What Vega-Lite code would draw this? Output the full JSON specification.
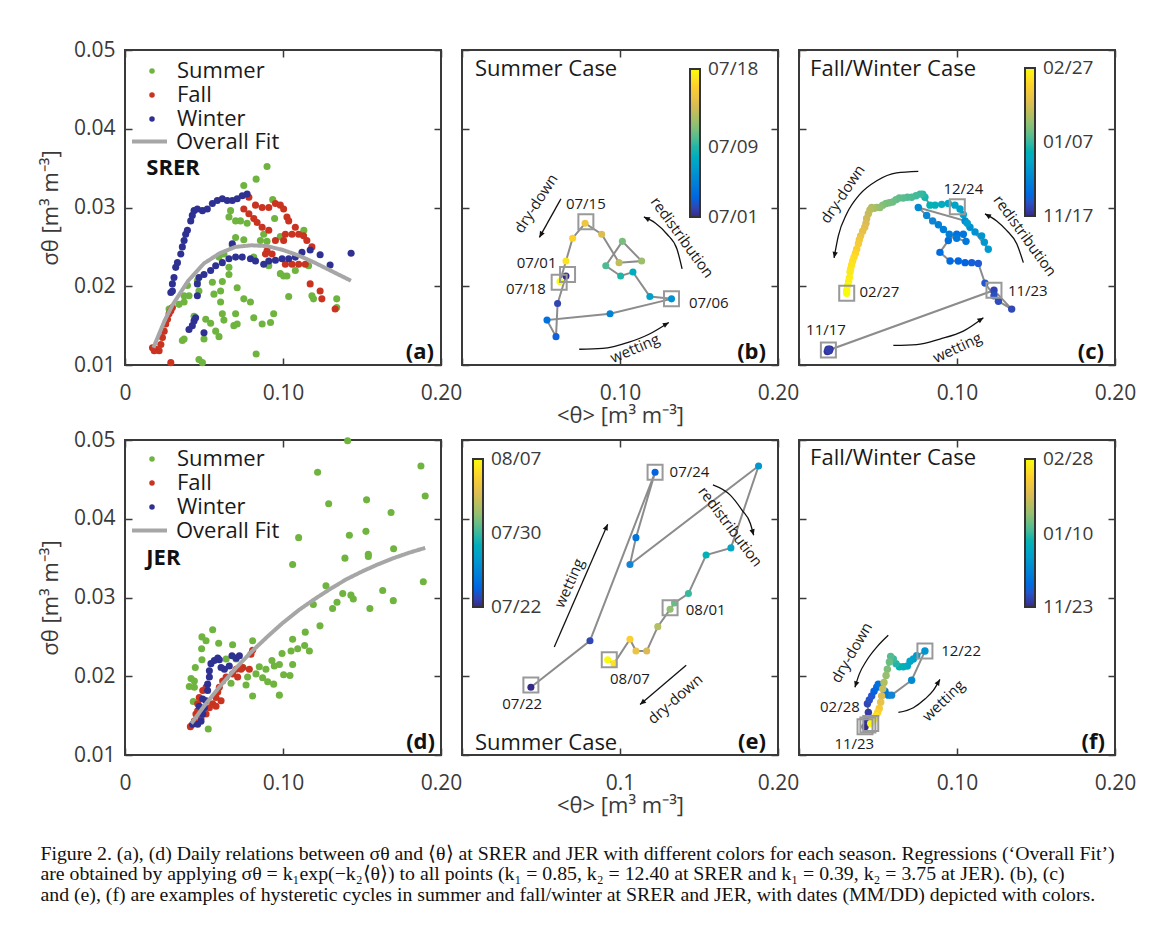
{
"$schema": "https://vega.github.io/schema/vega-lite/v6.json",
"background": "white",
"padding": {"left": 38, "top": 38, "right": 5, "bottom": 5},
"bounds": "flush",
"columns": 3,
"spacing": {"row": 75, "column": 21},
"resolve": {"scale": {"color": "independent", "strokeDash": "independent", "x": "independent", "y": "independent"}, "legend": {"color": "independent", "strokeDash": "independent"}},
"title": {"text": ["Figure 2. (a), (d) Daily relations between σθ and ⟨θ⟩ at SRER and JER with different colors for each season. Regressions (‘Overall Fit’)", "are obtained by applying σθ = k₁exp(−k₂⟨θ⟩) to all points (k₁ = 0.85, k₂ = 12.40 at SRER and k₁ = 0.39, k₂ = 3.75 at JER). (b), (c)", "and (e), (f) are examples of hysteretic cycles in summer and fall/winter at SRER and JER, with dates (MM/DD) depicted with colors."], "orient": "bottom", "anchor": "start", "frame": "bounds", "font": "Liberation Serif", "fontSize": 19.8, "fontWeight": "normal", "color": "#111111", "lineHeight": 20.3, "offset": 27, "dx": 2},
"config": {
 "font": "Open Sans",
 "view": {"stroke": "#3a3a3a", "strokeWidth": 2},
 "axis": {"domain": false, "grid": false, "tickColor": "#3a3a3a", "tickWidth": 1.5, "tickSize": -7, "labelFontSize": 21, "labelColor": "#3a3a3a", "labelFlush": false, "labelOverlap": false, "titleFontSize": 22, "titleFontWeight": "normal", "titleColor": "#3a3a3a"},
 "axisY": {"labelPadding": 17},
 "legend": {"labelFont": "Open Sans", "labelColor": "#1a1a1a"},
 "text": {"font": "Open Sans", "color": "#1a1a1a"}
},
"datasets": {
 "a_pts": [
  {"season":"Summer","theta":0.0899,"sigma":0.0352},{"season":"Summer","theta":0.083,"sigma":0.0336},{"season":"Summer","theta":0.0752,"sigma":0.0328},{"season":"Summer","theta":0.0668,"sigma":0.0296},{"season":"Summer","theta":0.0658,"sigma":0.0288},{"season":"Summer","theta":0.07,"sigma":0.0283},{"season":"Summer","theta":0.0731,"sigma":0.0283},{"season":"Summer","theta":0.0773,"sigma":0.028},{"season":"Summer","theta":0.0935,"sigma":0.031},{"season":"Summer","theta":0.0947,"sigma":0.0286},{"season":"Summer","theta":0.0878,"sigma":0.0266},{"season":"Summer","theta":0.07,"sigma":0.0262},{"season":"Summer","theta":0.0752,"sigma":0.0259},{"season":"Summer","theta":0.0857,"sigma":0.0258},{"season":"Summer","theta":0.0899,"sigma":0.0257},{"season":"Summer","theta":0.0983,"sigma":0.0263},{"season":"Summer","theta":0.1132,"sigma":0.0271},{"season":"Summer","theta":0.0626,"sigma":0.0241},{"season":"Summer","theta":0.0595,"sigma":0.0237},{"season":"Summer","theta":0.0658,"sigma":0.0224},{"season":"Summer","theta":0.0658,"sigma":0.0215},{"season":"Summer","theta":0.0679,"sigma":0.0252},{"season":"Summer","theta":0.0815,"sigma":0.0237},{"season":"Summer","theta":0.091,"sigma":0.0226},{"season":"Summer","theta":0.1004,"sigma":0.0213},{"season":"Summer","theta":0.1078,"sigma":0.022},{"season":"Summer","theta":0.1162,"sigma":0.0226},{"season":"Summer","theta":0.0458,"sigma":0.0207},{"season":"Summer","theta":0.0395,"sigma":0.0201},{"season":"Summer","theta":0.0374,"sigma":0.0188},{"season":"Summer","theta":0.0405,"sigma":0.0188},{"season":"Summer","theta":0.0553,"sigma":0.0205},{"season":"Summer","theta":0.0616,"sigma":0.0206},{"season":"Summer","theta":0.0563,"sigma":0.019},{"season":"Summer","theta":0.0605,"sigma":0.0194},{"season":"Summer","theta":0.071,"sigma":0.0198},{"season":"Summer","theta":0.0752,"sigma":0.0184},{"season":"Summer","theta":0.0794,"sigma":0.018},{"season":"Summer","theta":0.0605,"sigma":0.018},{"season":"Summer","theta":0.0279,"sigma":0.0171},{"season":"Summer","theta":0.0342,"sigma":0.0177},{"season":"Summer","theta":0.0374,"sigma":0.018},{"season":"Summer","theta":0.0437,"sigma":0.0162},{"season":"Summer","theta":0.0511,"sigma":0.0158},{"season":"Summer","theta":0.0542,"sigma":0.0153},{"season":"Summer","theta":0.0574,"sigma":0.0143},{"season":"Summer","theta":0.0616,"sigma":0.0165},{"season":"Summer","theta":0.0626,"sigma":0.0157},{"season":"Summer","theta":0.07,"sigma":0.0165},{"season":"Summer","theta":0.0689,"sigma":0.015},{"season":"Summer","theta":0.071,"sigma":0.0152},{"season":"Summer","theta":0.0815,"sigma":0.016},{"season":"Summer","theta":0.0868,"sigma":0.0152},{"season":"Summer","theta":0.0921,"sigma":0.0154},{"season":"Summer","theta":0.0941,"sigma":0.0165},{"season":"Summer","theta":0.1036,"sigma":0.0187},{"season":"Summer","theta":0.1183,"sigma":0.0188},{"season":"Summer","theta":0.1193,"sigma":0.0184},{"season":"Summer","theta":0.134,"sigma":0.0184},{"season":"Summer","theta":0.134,"sigma":0.0173},{"season":"Summer","theta":0.0374,"sigma":0.0133},{"season":"Summer","theta":0.0363,"sigma":0.0131},{"season":"Summer","theta":0.05,"sigma":0.0133},{"season":"Summer","theta":0.0595,"sigma":0.0136},{"season":"Summer","theta":0.0468,"sigma":0.0107},{"season":"Summer","theta":0.049,"sigma":0.0103},{"season":"Summer","theta":0.083,"sigma":0.0114},{"season":"Summer","theta":0.0983,"sigma":0.0216},{"season":"Summer","theta":0.1025,"sigma":0.0213},{"season":"Summer","theta":0.0468,"sigma":0.0194},
  {"season":"Fall","theta":0.0174,"sigma":0.0122},{"season":"Fall","theta":0.0195,"sigma":0.012},{"season":"Fall","theta":0.0216,"sigma":0.0118},{"season":"Fall","theta":0.0227,"sigma":0.0126},{"season":"Fall","theta":0.0237,"sigma":0.0135},{"season":"Fall","theta":0.0248,"sigma":0.0143},{"season":"Fall","theta":0.0258,"sigma":0.0152},{"season":"Fall","theta":0.0269,"sigma":0.0158},{"season":"Fall","theta":0.0279,"sigma":0.0165},{"season":"Fall","theta":0.029,"sigma":0.0169},{"season":"Fall","theta":0.03,"sigma":0.0173},{"season":"Fall","theta":0.029,"sigma":0.0103},{"season":"Fall","theta":0.0185,"sigma":0.0118},{"season":"Fall","theta":0.0784,"sigma":0.0313},{"season":"Fall","theta":0.0752,"sigma":0.0298},{"season":"Fall","theta":0.0784,"sigma":0.0292},{"season":"Fall","theta":0.0815,"sigma":0.0286},{"season":"Fall","theta":0.0836,"sigma":0.0281},{"season":"Fall","theta":0.0868,"sigma":0.0275},{"season":"Fall","theta":0.091,"sigma":0.0271},{"season":"Fall","theta":0.0826,"sigma":0.0303},{"season":"Fall","theta":0.0868,"sigma":0.03},{"season":"Fall","theta":0.091,"sigma":0.03},{"season":"Fall","theta":0.0952,"sigma":0.0305},{"season":"Fall","theta":0.0983,"sigma":0.0303},{"season":"Fall","theta":0.1004,"sigma":0.0298},{"season":"Fall","theta":0.1025,"sigma":0.0288},{"season":"Fall","theta":0.1036,"sigma":0.0283},{"season":"Fall","theta":0.1015,"sigma":0.0266},{"season":"Fall","theta":0.1057,"sigma":0.0266},{"season":"Fall","theta":0.1078,"sigma":0.0275},{"season":"Fall","theta":0.1099,"sigma":0.0266},{"season":"Fall","theta":0.113,"sigma":0.0264},{"season":"Fall","theta":0.1151,"sigma":0.0258},{"season":"Fall","theta":0.1183,"sigma":0.025},{"season":"Fall","theta":0.0952,"sigma":0.0258},{"season":"Fall","theta":0.1004,"sigma":0.0258},{"season":"Fall","theta":0.0899,"sigma":0.0245},{"season":"Fall","theta":0.0931,"sigma":0.0241},{"season":"Fall","theta":0.0889,"sigma":0.0241},{"season":"Fall","theta":0.1015,"sigma":0.0228},{"season":"Fall","theta":0.1057,"sigma":0.0228},{"season":"Fall","theta":0.1099,"sigma":0.0228},{"season":"Fall","theta":0.1141,"sigma":0.0228},{"season":"Fall","theta":0.1172,"sigma":0.0203},{"season":"Fall","theta":0.1235,"sigma":0.0194},{"season":"Fall","theta":0.1246,"sigma":0.0184},{"season":"Fall","theta":0.133,"sigma":0.0171},
  {"season":"Winter","theta":0.029,"sigma":0.0192},{"season":"Winter","theta":0.03,"sigma":0.0203},{"season":"Winter","theta":0.031,"sigma":0.0211},{"season":"Winter","theta":0.0321,"sigma":0.0224},{"season":"Winter","theta":0.0332,"sigma":0.023},{"season":"Winter","theta":0.0353,"sigma":0.0241},{"season":"Winter","theta":0.0363,"sigma":0.025},{"season":"Winter","theta":0.0374,"sigma":0.0258},{"season":"Winter","theta":0.0384,"sigma":0.0266},{"season":"Winter","theta":0.0395,"sigma":0.0271},{"season":"Winter","theta":0.0416,"sigma":0.0283},{"season":"Winter","theta":0.0426,"sigma":0.029},{"season":"Winter","theta":0.0437,"sigma":0.0296},{"season":"Winter","theta":0.0458,"sigma":0.0298},{"season":"Winter","theta":0.049,"sigma":0.0296},{"season":"Winter","theta":0.0521,"sigma":0.0298},{"season":"Winter","theta":0.0553,"sigma":0.0305},{"season":"Winter","theta":0.0584,"sigma":0.0309},{"season":"Winter","theta":0.0616,"sigma":0.0311},{"season":"Winter","theta":0.0647,"sigma":0.0309},{"season":"Winter","theta":0.0679,"sigma":0.0309},{"season":"Winter","theta":0.071,"sigma":0.0311},{"season":"Winter","theta":0.0742,"sigma":0.0315},{"season":"Winter","theta":0.0773,"sigma":0.0317},{"season":"Winter","theta":0.0458,"sigma":0.0203},{"season":"Winter","theta":0.0468,"sigma":0.0211},{"season":"Winter","theta":0.05,"sigma":0.0215},{"season":"Winter","theta":0.0542,"sigma":0.022},{"season":"Winter","theta":0.0574,"sigma":0.0226},{"season":"Winter","theta":0.0616,"sigma":0.023},{"season":"Winter","theta":0.0658,"sigma":0.0235},{"season":"Winter","theta":0.07,"sigma":0.0237},{"season":"Winter","theta":0.0742,"sigma":0.0237},{"season":"Winter","theta":0.0794,"sigma":0.0235},{"season":"Winter","theta":0.0826,"sigma":0.0232},{"season":"Winter","theta":0.0878,"sigma":0.0228},{"season":"Winter","theta":0.091,"sigma":0.0232},{"season":"Winter","theta":0.0952,"sigma":0.0233},{"season":"Winter","theta":0.0994,"sigma":0.0235},{"season":"Winter","theta":0.1036,"sigma":0.0235},{"season":"Winter","theta":0.1078,"sigma":0.0237},{"season":"Winter","theta":0.112,"sigma":0.0243},{"season":"Winter","theta":0.1172,"sigma":0.0246},{"season":"Winter","theta":0.1235,"sigma":0.024},{"season":"Winter","theta":0.1298,"sigma":0.0227},{"season":"Winter","theta":0.1431,"sigma":0.0242},{"season":"Winter","theta":0.0679,"sigma":0.0254},{"season":"Winter","theta":0.03,"sigma":0.0194},{"season":"Winter","theta":0.0458,"sigma":0.0188},{"season":"Winter","theta":0.0437,"sigma":0.0156},{"season":"Winter","theta":0.0426,"sigma":0.015},{"season":"Winter","theta":0.0405,"sigma":0.0145},{"season":"Winter","theta":0.0447,"sigma":0.016},{"season":"Winter","theta":0.05,"sigma":0.0141}
 ],
 "a_fit": [{"theta":0.018,"sigma":0.0122},{"theta":0.025,"sigma":0.0156},{"theta":0.03,"sigma":0.0176},{"theta":0.04,"sigma":0.0207},{"theta":0.05,"sigma":0.0229},{"theta":0.06,"sigma":0.0242},{"theta":0.07,"sigma":0.025},{"theta":0.08,"sigma":0.0252},{"theta":0.09,"sigma":0.0251},{"theta":0.1,"sigma":0.0246},{"theta":0.11,"sigma":0.0239},{"theta":0.12,"sigma":0.023},{"theta":0.13,"sigma":0.022},{"theta":0.14,"sigma":0.021},{"theta":0.143,"sigma":0.0207}],
 "d_pts": [
  {"season":"Summer","theta":0.1409,"sigma":0.0499},{"season":"Summer","theta":0.1219,"sigma":0.0459},{"season":"Summer","theta":0.1873,"sigma":0.0467},{"season":"Summer","theta":0.19,"sigma":0.0429},{"season":"Summer","theta":0.1289,"sigma":0.0419},{"season":"Summer","theta":0.1529,"sigma":0.0424},{"season":"Summer","theta":0.1684,"sigma":0.0408},{"season":"Summer","theta":0.1099,"sigma":0.0376},{"season":"Summer","theta":0.142,"sigma":0.0379},{"season":"Summer","theta":0.1525,"sigma":0.0384},{"season":"Summer","theta":0.17,"sigma":0.0362},{"season":"Summer","theta":0.1061,"sigma":0.0342},{"season":"Summer","theta":0.1392,"sigma":0.035},{"season":"Summer","theta":0.154,"sigma":0.0355},{"season":"Summer","theta":0.154,"sigma":0.0352},{"season":"Summer","theta":0.1888,"sigma":0.032},{"season":"Summer","theta":0.1272,"sigma":0.0315},{"season":"Summer","theta":0.1378,"sigma":0.0305},{"season":"Summer","theta":0.143,"sigma":0.0303},{"season":"Summer","theta":0.1445,"sigma":0.0298},{"season":"Summer","theta":0.1631,"sigma":0.0309},{"season":"Summer","theta":0.1698,"sigma":0.0296},{"season":"Summer","theta":0.155,"sigma":0.0286},{"season":"Summer","theta":0.1314,"sigma":0.0286},{"season":"Summer","theta":0.1342,"sigma":0.0294},{"season":"Summer","theta":0.1192,"sigma":0.0291},{"season":"Summer","theta":0.1234,"sigma":0.0264},{"season":"Summer","theta":0.1141,"sigma":0.0256},{"season":"Summer","theta":0.1061,"sigma":0.0247},{"season":"Summer","theta":0.1137,"sigma":0.0239},{"season":"Summer","theta":0.1093,"sigma":0.0235},{"season":"Summer","theta":0.1167,"sigma":0.0232},{"season":"Summer","theta":0.1051,"sigma":0.0232},{"season":"Summer","theta":0.0994,"sigma":0.0229},{"season":"Summer","theta":0.1061,"sigma":0.0215},{"season":"Summer","theta":0.1044,"sigma":0.0201},{"season":"Summer","theta":0.1004,"sigma":0.0202},{"season":"Summer","theta":0.093,"sigma":0.022},{"season":"Summer","theta":0.0977,"sigma":0.0215},{"season":"Summer","theta":0.0945,"sigma":0.0213},{"season":"Summer","theta":0.0892,"sigma":0.0209},{"season":"Summer","theta":0.085,"sigma":0.0212},{"season":"Summer","theta":0.0829,"sigma":0.0203},{"season":"Summer","theta":0.0871,"sigma":0.0198},{"season":"Summer","theta":0.0903,"sigma":0.0193},{"season":"Summer","theta":0.0941,"sigma":0.019},{"season":"Summer","theta":0.0977,"sigma":0.0176},{"season":"Summer","theta":0.0808,"sigma":0.0175},{"season":"Summer","theta":0.0766,"sigma":0.0189},{"season":"Summer","theta":0.0776,"sigma":0.0199},{"season":"Summer","theta":0.0808,"sigma":0.0245},{"season":"Summer","theta":0.0681,"sigma":0.024},{"season":"Summer","theta":0.064,"sigma":0.0222},{"season":"Summer","theta":0.0671,"sigma":0.0191},{"season":"Summer","theta":0.0593,"sigma":0.0242},{"season":"Summer","theta":0.0555,"sigma":0.0259},{"season":"Summer","theta":0.0487,"sigma":0.025},{"season":"Summer","theta":0.0513,"sigma":0.0245},{"season":"Summer","theta":0.0485,"sigma":0.0235},{"season":"Summer","theta":0.0487,"sigma":0.0221},{"season":"Summer","theta":0.0445,"sigma":0.0211},{"season":"Summer","theta":0.0418,"sigma":0.0197},{"season":"Summer","theta":0.0439,"sigma":0.0194},{"season":"Summer","theta":0.0407,"sigma":0.0187},{"season":"Summer","theta":0.0439,"sigma":0.0186},{"season":"Summer","theta":0.0432,"sigma":0.0168},{"season":"Summer","theta":0.0527,"sigma":0.0133},{"season":"Summer","theta":0.0703,"sigma":0.0222},{"season":"Summer","theta":0.0745,"sigma":0.0211},
  {"season":"Fall","theta":0.0414,"sigma":0.0136},{"season":"Fall","theta":0.0439,"sigma":0.0143},{"season":"Fall","theta":0.0449,"sigma":0.0152},{"season":"Fall","theta":0.046,"sigma":0.0165},{"season":"Fall","theta":0.047,"sigma":0.0173},{"season":"Fall","theta":0.0492,"sigma":0.0182},{"season":"Fall","theta":0.0513,"sigma":0.0186},{"season":"Fall","theta":0.0492,"sigma":0.0156},{"season":"Fall","theta":0.0534,"sigma":0.016},{"season":"Fall","theta":0.0555,"sigma":0.0165},{"season":"Fall","theta":0.0576,"sigma":0.0173},{"season":"Fall","theta":0.0587,"sigma":0.018},{"season":"Fall","theta":0.0597,"sigma":0.0186},{"season":"Fall","theta":0.0618,"sigma":0.0194},{"season":"Fall","theta":0.064,"sigma":0.0199},{"season":"Fall","theta":0.0681,"sigma":0.0203},{"season":"Fall","theta":0.0703,"sigma":0.0209},{"season":"Fall","theta":0.0745,"sigma":0.0211},{"season":"Fall","theta":0.0787,"sigma":0.0209},{"season":"Fall","theta":0.0808,"sigma":0.0233},{"season":"Fall","theta":0.0797,"sigma":0.0228},{"season":"Fall","theta":0.0713,"sigma":0.0199},{"season":"Fall","theta":0.0734,"sigma":0.0209},{"season":"Fall","theta":0.0513,"sigma":0.0152},{"season":"Fall","theta":0.0576,"sigma":0.0162},{"season":"Fall","theta":0.0608,"sigma":0.0169},{"season":"Fall","theta":0.046,"sigma":0.0156},{"season":"Fall","theta":0.0481,"sigma":0.0147},
  {"season":"Winter","theta":0.0428,"sigma":0.0139},{"season":"Winter","theta":0.046,"sigma":0.0139},{"season":"Winter","theta":0.0481,"sigma":0.0143},{"season":"Winter","theta":0.0492,"sigma":0.0152},{"season":"Winter","theta":0.0502,"sigma":0.016},{"season":"Winter","theta":0.0513,"sigma":0.0169},{"season":"Winter","theta":0.0523,"sigma":0.0182},{"season":"Winter","theta":0.0523,"sigma":0.019},{"season":"Winter","theta":0.0534,"sigma":0.0199},{"season":"Winter","theta":0.0534,"sigma":0.0207},{"season":"Winter","theta":0.0544,"sigma":0.0216},{"season":"Winter","theta":0.0565,"sigma":0.022},{"season":"Winter","theta":0.0587,"sigma":0.0223},{"season":"Winter","theta":0.0597,"sigma":0.0221},{"season":"Winter","theta":0.0608,"sigma":0.0211},{"season":"Winter","theta":0.0629,"sigma":0.0209},{"season":"Winter","theta":0.066,"sigma":0.0213},{"season":"Winter","theta":0.0677,"sigma":0.0226},{"season":"Winter","theta":0.0703,"sigma":0.0223},{"season":"Winter","theta":0.0724,"sigma":0.0226},{"season":"Winter","theta":0.0492,"sigma":0.0171},{"season":"Winter","theta":0.047,"sigma":0.0162}
 ],
 "d_fit": [{"theta":0.042,"sigma":0.014},{"theta":0.05,"sigma":0.0162},{"theta":0.06,"sigma":0.0187},{"theta":0.07,"sigma":0.021},{"theta":0.08,"sigma":0.0231},{"theta":0.09,"sigma":0.025},{"theta":0.1,"sigma":0.0268},{"theta":0.11,"sigma":0.0284},{"theta":0.12,"sigma":0.0298},{"theta":0.13,"sigma":0.0311},{"theta":0.14,"sigma":0.0323},{"theta":0.15,"sigma":0.0333},{"theta":0.16,"sigma":0.0342},{"theta":0.17,"sigma":0.035},{"theta":0.18,"sigma":0.0357},{"theta":0.19,"sigma":0.0363}],
 "b_pts": [{"date":"2015-07-01","theta":0.0658,"sigma":0.0213},{"date":"2015-07-02","theta":0.0605,"sigma":0.0178},{"date":"2015-07-03","theta":0.0595,"sigma":0.0136},{"date":"2015-07-04","theta":0.0538,"sigma":0.0157},{"date":"2015-07-05","theta":0.0937,"sigma":0.0165},{"date":"2015-07-06","theta":0.1326,"sigma":0.0184},{"date":"2015-07-07","theta":0.1189,"sigma":0.0187},{"date":"2015-07-08","theta":0.1082,"sigma":0.0218},{"date":"2015-07-09","theta":0.1004,"sigma":0.0213},{"date":"2015-07-10","theta":0.091,"sigma":0.0226},{"date":"2015-07-11","theta":0.1015,"sigma":0.0257},{"date":"2015-07-12","theta":0.1137,"sigma":0.0232},{"date":"2015-07-13","theta":0.0994,"sigma":0.023},{"date":"2015-07-14","theta":0.0884,"sigma":0.0266},{"date":"2015-07-15","theta":0.0779,"sigma":0.028},{"date":"2015-07-16","theta":0.07,"sigma":0.0261},{"date":"2015-07-17","theta":0.0658,"sigma":0.0232},{"date":"2015-07-18","theta":0.062,"sigma":0.0206}],
 "b_box": [{"theta":0.0668,"sigma":0.0215},{"theta":0.0615,"sigma":0.0205},{"theta":0.0784,"sigma":0.0282},{"theta":0.1326,"sigma":0.0184}],
 "b_lab": [{"label":"07/15","theta":0.0784,"sigma":0.0305},{"label":"07/01","theta":0.0472,"sigma":0.023},{"label":"07/18","theta":0.0404,"sigma":0.0196},{"label":"07/06","theta":0.1562,"sigma":0.0179}],
 "b_arr": [{"arrow":"dry","k":0,"theta":0.0626,"sigma":0.0311},{"arrow":"dry","k":1,"theta":0.049,"sigma":0.0262},{"arrow":"redis","k":0,"theta":0.1393,"sigma":0.0222},{"arrow":"redis","k":1,"theta":0.1361,"sigma":0.0247},{"arrow":"redis","k":2,"theta":0.1298,"sigma":0.0266},{"arrow":"redis","k":3,"theta":0.1225,"sigma":0.028},{"arrow":"redis","k":4,"theta":0.1151,"sigma":0.0288},{"arrow":"wet","k":0,"theta":0.0742,"sigma":0.012},{"arrow":"wet","k":1,"theta":0.0889,"sigma":0.0121},{"arrow":"wet","k":2,"theta":0.1057,"sigma":0.0129},{"arrow":"wet","k":3,"theta":0.1183,"sigma":0.0139},{"arrow":"wet","k":4,"theta":0.1309,"sigma":0.0154}],
 "b_head": [{"theta":0.049,"sigma":0.0262,"dir":119},{"theta":0.1151,"sigma":0.0288,"dir":207},{"theta":0.1309,"sigma":0.0154,"dir":-30}],
 "b_note": [{"label":"dry-down","theta":0.0468,"sigma":0.0305,"angle":-57},{"label":"redistribution","theta":0.1393,"sigma":0.0262,"angle":54},{"label":"wetting","theta":0.1095,"sigma":0.0121,"angle":-23}],
 "c_pts": [{"date":"2014-11-17","theta":0.0186,"sigma":0.0119},{"date":"2014-11-18","theta":0.0196,"sigma":0.012},{"date":"2014-11-19","theta":0.0179,"sigma":0.0117},{"date":"2014-11-20","theta":0.0192,"sigma":0.0118},{"date":"2014-11-21","theta":0.0184,"sigma":0.012},{"date":"2014-11-22","theta":0.019,"sigma":0.0119},{"date":"2014-11-23","theta":0.1234,"sigma":0.0195},{"date":"2014-11-24","theta":0.1346,"sigma":0.0171},{"date":"2014-11-25","theta":0.1262,"sigma":0.0181},{"date":"2014-11-26","theta":0.1234,"sigma":0.0188},{"date":"2014-11-27","theta":0.1177,"sigma":0.0204},{"date":"2014-11-28","theta":0.1135,"sigma":0.0229},{"date":"2014-11-29","theta":0.1093,"sigma":0.023},{"date":"2014-11-30","theta":0.1051,"sigma":0.023},{"date":"2014-12-01","theta":0.1008,"sigma":0.0232},{"date":"2014-12-02","theta":0.0956,"sigma":0.0232},{"date":"2014-12-03","theta":0.0892,"sigma":0.0243},{"date":"2014-12-04","theta":0.0945,"sigma":0.0258},{"date":"2014-12-05","theta":0.0998,"sigma":0.0266},{"date":"2014-12-06","theta":0.104,"sigma":0.0266},{"date":"2014-12-07","theta":0.1057,"sigma":0.0257},{"date":"2014-12-08","theta":0.0998,"sigma":0.0261},{"date":"2014-12-09","theta":0.0951,"sigma":0.0266},{"date":"2014-12-10","theta":0.0914,"sigma":0.0272},{"date":"2014-12-11","theta":0.0882,"sigma":0.0278},{"date":"2014-12-12","theta":0.0846,"sigma":0.0283},{"date":"2014-12-13","theta":0.0808,"sigma":0.029},{"date":"2014-12-14","theta":0.0755,"sigma":0.03},{"date":"2014-12-15","theta":0.1051,"sigma":0.0283},{"date":"2014-12-16","theta":0.1082,"sigma":0.0275},{"date":"2014-12-17","theta":0.1114,"sigma":0.0269},{"date":"2014-12-18","theta":0.1156,"sigma":0.0264},{"date":"2014-12-19","theta":0.1173,"sigma":0.0256},{"date":"2014-12-20","theta":0.1198,"sigma":0.0247},{"date":"2014-12-21","theta":0.1065,"sigma":0.028},{"date":"2014-12-22","theta":0.104,"sigma":0.0291},{"date":"2014-12-23","theta":0.1019,"sigma":0.0298},{"date":"2014-12-24","theta":0.0987,"sigma":0.0303},{"date":"2014-12-26","theta":0.0945,"sigma":0.0305},{"date":"2014-12-28","theta":0.0903,"sigma":0.0304},{"date":"2014-12-30","theta":0.0861,"sigma":0.0303},{"date":"2015-01-01","theta":0.0829,"sigma":0.0303},{"date":"2015-01-03","theta":0.0797,"sigma":0.0313},{"date":"2015-01-05","theta":0.0783,"sigma":0.0317},{"date":"2015-01-07","theta":0.0766,"sigma":0.0317},{"date":"2015-01-08","theta":0.0741,"sigma":0.0315},{"date":"2015-01-09","theta":0.0713,"sigma":0.0313},{"date":"2015-01-10","theta":0.0686,"sigma":0.0313},{"date":"2015-01-11","theta":0.066,"sigma":0.0312},{"date":"2015-01-12","theta":0.0635,"sigma":0.0312},{"date":"2015-01-13","theta":0.0614,"sigma":0.031},{"date":"2015-01-14","theta":0.0593,"sigma":0.0307},{"date":"2015-01-15","theta":0.0572,"sigma":0.0306},{"date":"2015-01-16","theta":0.0551,"sigma":0.0305},{"date":"2015-01-17","theta":0.053,"sigma":0.0303},{"date":"2015-01-19","theta":0.0513,"sigma":0.03},{"date":"2015-01-21","theta":0.0492,"sigma":0.03},{"date":"2015-01-23","theta":0.0475,"sigma":0.0299},{"date":"2015-01-25","theta":0.046,"sigma":0.03},{"date":"2015-01-27","theta":0.0449,"sigma":0.0297},{"date":"2015-01-29","theta":0.0439,"sigma":0.0292},{"date":"2015-01-31","theta":0.0428,"sigma":0.0286},{"date":"2015-02-02","theta":0.0424,"sigma":0.028},{"date":"2015-02-04","theta":0.0416,"sigma":0.0275},{"date":"2015-02-06","theta":0.0403,"sigma":0.027},{"date":"2015-02-08","theta":0.039,"sigma":0.0264},{"date":"2015-02-10","theta":0.0382,"sigma":0.0259},{"date":"2015-02-12","theta":0.0376,"sigma":0.0254},{"date":"2015-02-14","theta":0.0365,"sigma":0.0247},{"date":"2015-02-16","theta":0.0357,"sigma":0.0242},{"date":"2015-02-18","theta":0.0348,"sigma":0.0237},{"date":"2015-02-19","theta":0.034,"sigma":0.0232},{"date":"2015-02-20","theta":0.0333,"sigma":0.0227},{"date":"2015-02-21","theta":0.0327,"sigma":0.0222},{"date":"2015-02-22","theta":0.0323,"sigma":0.0218},{"date":"2015-02-23","theta":0.0319,"sigma":0.0211},{"date":"2015-02-24","theta":0.0314,"sigma":0.0206},{"date":"2015-02-25","theta":0.0308,"sigma":0.0201},{"date":"2015-02-26","theta":0.0302,"sigma":0.0195},{"date":"2015-02-27","theta":0.0302,"sigma":0.0191}],
 "c_box": [{"theta":0.0186,"sigma":0.0119},{"theta":0.1234,"sigma":0.0195},{"theta":0.1002,"sigma":0.0301},{"theta":0.0302,"sigma":0.0191}],
 "c_lab": [{"label":"12/24","theta":0.104,"sigma":0.0324},{"label":"02/27","theta":0.0509,"sigma":0.0193},{"label":"11/23","theta":0.1448,"sigma":0.0194},{"label":"11/17","theta":0.0171,"sigma":0.0144}],
 "c_arr": [{"arrow":"dry","k":0,"theta":0.0755,"sigma":0.0346},{"arrow":"dry","k":1,"theta":0.0618,"sigma":0.0344},{"arrow":"dry","k":2,"theta":0.0492,"sigma":0.0334},{"arrow":"dry","k":3,"theta":0.0386,"sigma":0.0317},{"arrow":"dry","k":4,"theta":0.0302,"sigma":0.0292},{"arrow":"dry","k":5,"theta":0.0249,"sigma":0.0264},{"arrow":"dry","k":6,"theta":0.0222,"sigma":0.0236},{"arrow":"redis","k":0,"theta":0.142,"sigma":0.023},{"arrow":"redis","k":1,"theta":0.1378,"sigma":0.0254},{"arrow":"redis","k":2,"theta":0.1314,"sigma":0.0271},{"arrow":"redis","k":3,"theta":0.1251,"sigma":0.0283},{"arrow":"redis","k":4,"theta":0.1177,"sigma":0.0292},{"arrow":"wet","k":0,"theta":0.0597,"sigma":0.0125},{"arrow":"wet","k":1,"theta":0.0745,"sigma":0.0126},{"arrow":"wet","k":2,"theta":0.0892,"sigma":0.0133},{"arrow":"wet","k":3,"theta":0.104,"sigma":0.0143},{"arrow":"wet","k":4,"theta":0.1167,"sigma":0.016}],
 "c_head": [{"theta":0.0222,"sigma":0.0236,"dir":101},{"theta":0.1177,"sigma":0.0292,"dir":210},{"theta":0.1167,"sigma":0.016,"dir":-34}],
 "c_note": [{"label":"dry-down","theta":0.0276,"sigma":0.0317,"angle":-56},{"label":"redistribution","theta":0.143,"sigma":0.0264,"angle":54},{"label":"wetting","theta":0.1002,"sigma":0.0122,"angle":-25}],
 "e_pts": [{"date":"2015-07-22","theta":0.0436,"sigma":0.0186},{"date":"2015-07-23","theta":0.081,"sigma":0.0245},{"date":"2015-07-24","theta":0.1222,"sigma":0.0459},{"date":"2015-07-25","theta":0.1101,"sigma":0.0376},{"date":"2015-07-26","theta":0.1063,"sigma":0.0342},{"date":"2015-07-27","theta":0.1877,"sigma":0.0467},{"date":"2015-07-28","theta":0.1702,"sigma":0.0363},{"date":"2015-07-29","theta":0.1545,"sigma":0.0354},{"date":"2015-07-30","theta":0.1433,"sigma":0.0305},{"date":"2015-07-31","theta":0.1345,"sigma":0.0293},{"date":"2015-08-01","theta":0.1317,"sigma":0.0285},{"date":"2015-08-02","theta":0.1239,"sigma":0.0263},{"date":"2015-08-03","theta":0.1169,"sigma":0.0232},{"date":"2015-08-04","theta":0.1101,"sigma":0.0232},{"date":"2015-08-05","theta":0.1063,"sigma":0.0247},{"date":"2015-08-06","theta":0.0962,"sigma":0.0216},{"date":"2015-08-07","theta":0.0922,"sigma":0.0221}],
 "e_box": [{"theta":0.0436,"sigma":0.0189},{"theta":0.1222,"sigma":0.0459},{"theta":0.1317,"sigma":0.0287},{"theta":0.0932,"sigma":0.0221}],
 "e_lab": [{"label":"07/24","theta":0.144,"sigma":0.0459},{"label":"07/22","theta":0.0381,"sigma":0.0165},{"label":"08/07","theta":0.1063,"sigma":0.0197},{"label":"08/01","theta":0.1542,"sigma":0.0284}],
 "e_arr": [{"arrow":"wet","k":0,"theta":0.0584,"sigma":0.0237},{"arrow":"wet","k":1,"theta":0.0922,"sigma":0.0393},{"arrow":"redis","k":0,"theta":0.1588,"sigma":0.0443},{"arrow":"redis","k":1,"theta":0.1698,"sigma":0.043},{"arrow":"redis","k":2,"theta":0.1772,"sigma":0.0411},{"arrow":"redis","k":3,"theta":0.1825,"sigma":0.0394},{"arrow":"redis","k":4,"theta":0.1846,"sigma":0.0379},{"arrow":"dry","k":0,"theta":0.1419,"sigma":0.0214},{"arrow":"dry","k":1,"theta":0.1127,"sigma":0.0164}],
 "e_head": [{"theta":0.0922,"sigma":0.0393,"dir":-66},{"theta":0.1846,"sigma":0.0379,"dir":74},{"theta":0.1127,"sigma":0.0164,"dir":139}],
 "e_note": [{"label":"wetting","theta":0.0679,"sigma":0.0318,"angle":-66},{"label":"redistribution","theta":0.1698,"sigma":0.039,"angle":53},{"label":"dry-down","theta":0.1349,"sigma":0.0171,"angle":-41}],
 "f_pts": [{"date":"2014-11-23","theta":0.0418,"sigma":0.0136},{"date":"2014-11-25","theta":0.0428,"sigma":0.0143},{"date":"2014-11-27","theta":0.0439,"sigma":0.0154},{"date":"2014-11-29","theta":0.0433,"sigma":0.0165},{"date":"2014-12-01","theta":0.0445,"sigma":0.017},{"date":"2014-12-03","theta":0.046,"sigma":0.0175},{"date":"2014-12-05","theta":0.0475,"sigma":0.0181},{"date":"2014-12-07","theta":0.0492,"sigma":0.0186},{"date":"2014-12-09","theta":0.0502,"sigma":0.019},{"date":"2014-12-11","theta":0.0523,"sigma":0.0186},{"date":"2014-12-13","theta":0.0544,"sigma":0.0181},{"date":"2014-12-15","theta":0.0565,"sigma":0.0176},{"date":"2014-12-17","theta":0.0586,"sigma":0.0176},{"date":"2014-12-19","theta":0.0713,"sigma":0.0195},{"date":"2014-12-22","theta":0.0797,"sigma":0.0232},{"date":"2014-12-24","theta":0.0745,"sigma":0.0226},{"date":"2014-12-26","theta":0.0724,"sigma":0.0222},{"date":"2014-12-28","theta":0.0703,"sigma":0.0219},{"date":"2014-12-30","theta":0.0686,"sigma":0.0213},{"date":"2015-01-02","theta":0.066,"sigma":0.0212},{"date":"2015-01-05","theta":0.0635,"sigma":0.0212},{"date":"2015-01-08","theta":0.0614,"sigma":0.0216},{"date":"2015-01-11","theta":0.0597,"sigma":0.0222},{"date":"2015-01-14","theta":0.058,"sigma":0.0225},{"date":"2015-01-17","theta":0.0572,"sigma":0.0218},{"date":"2015-01-20","theta":0.0559,"sigma":0.0209},{"date":"2015-01-24","theta":0.0551,"sigma":0.0201},{"date":"2015-01-28","theta":0.0538,"sigma":0.0192},{"date":"2015-02-01","theta":0.053,"sigma":0.0184},{"date":"2015-02-05","theta":0.0523,"sigma":0.0175},{"date":"2015-02-09","theta":0.0517,"sigma":0.0167},{"date":"2015-02-13","theta":0.0508,"sigma":0.0159},{"date":"2015-02-17","theta":0.0498,"sigma":0.0154},{"date":"2015-02-21","theta":0.0487,"sigma":0.015},{"date":"2015-02-25","theta":0.047,"sigma":0.0144},{"date":"2015-02-28","theta":0.0454,"sigma":0.014}],
 "f_box": [{"theta":0.0418,"sigma":0.0136},{"theta":0.0436,"sigma":0.0138},{"theta":0.0454,"sigma":0.014},{"theta":0.0797,"sigma":0.0232}],
 "f_lab": [{"label":"12/22","theta":0.1026,"sigma":0.0232},{"label":"02/28","theta":0.0259,"sigma":0.0161},{"label":"11/23","theta":0.035,"sigma":0.0114}],
 "f_arr": [{"arrow":"dry","k":0,"theta":0.0565,"sigma":0.0252},{"arrow":"dry","k":1,"theta":0.0492,"sigma":0.0237},{"arrow":"dry","k":2,"theta":0.0428,"sigma":0.022},{"arrow":"dry","k":3,"theta":0.0382,"sigma":0.0203},{"arrow":"dry","k":4,"theta":0.0354,"sigma":0.0186},{"arrow":"wet","k":0,"theta":0.0629,"sigma":0.0154},{"arrow":"wet","k":1,"theta":0.0724,"sigma":0.016},{"arrow":"wet","k":2,"theta":0.0797,"sigma":0.0171},{"arrow":"wet","k":3,"theta":0.085,"sigma":0.0182},{"arrow":"wet","k":4,"theta":0.0892,"sigma":0.0196}],
 "f_head": [{"theta":0.0354,"sigma":0.0186,"dir":108},{"theta":0.0892,"sigma":0.0196,"dir":-59}],
 "f_note": [{"label":"dry-down","theta":0.0333,"sigma":0.023,"angle":-60},{"label":"wetting","theta":0.0914,"sigma":0.0169,"angle":-44}]
},
"concat": [
 {"width": 316, "height": 315, "resolve": {"axis": {"x": "independent", "y": "independent"}},
  "layer": [
   {"data": {"name": "a_pts"}, "mark": {"type": "point", "filled": true, "size": 50, "opacity": 1},
    "encoding": {"x": {"field": "theta", "type": "quantitative", "scale": {"domain": [0, 0.2], "nice": false, "zero": false}, "axis": {"orient": "bottom", "values": [0, 0.1, 0.2], "labelPadding": 24, "labelExpr": "datum.value === 0 ? '0' : format(datum.value, '.2f')", "title": null}},
     "y": {"field": "sigma", "type": "quantitative", "scale": {"domain": [0.01, 0.05], "nice": false, "zero": false}, "axis": {"orient": "left", "values": [0.01, 0.02, 0.03, 0.04, 0.05], "format": ".2f", "title": "σθ [m³ m⁻³]", "titlePadding": 11}},
     "color": {"field": "season", "type": "nominal", "scale": {"domain": ["Summer", "Fall", "Winter"], "range": ["#6fb43f", "#c9331f", "#2e3192"]},
      "legend": {"orient": "none", "legendX": 16, "legendY": 10, "title": null, "labelFontSize": 22, "symbolSize": 30, "symbolType": "circle", "labelOffset": 14, "padding": 0, "rowPadding": 2, "symbolStrokeWidth": 0}}}},
   {"data": {"name": "a_fit"}, "mark": {"type": "line", "color": "#a6a6a6", "strokeWidth": 4},
    "encoding": {"x": {"field": "theta", "type": "quantitative", "scale": {"domain": [0, 0.2], "nice": false, "zero": false}, "axis": {"orient": "top", "values": [0, 0.1, 0.2], "labels": false, "title": null}},
     "y": {"field": "sigma", "type": "quantitative", "scale": {"domain": [0.01, 0.05], "nice": false, "zero": false}, "axis": {"orient": "right", "values": [0.01, 0.02, 0.03, 0.04, 0.05], "labels": false, "title": null}},
     "strokeDash": {"datum": "Overall Fit", "type": "nominal", "scale": {"domain": ["Overall Fit"], "range": [[1, 0]]},
      "legend": {"orient": "none", "legendX": 5, "legendY": 72, "title": null, "labelFontSize": 22, "symbolType": "stroke", "symbolSize": 1225, "symbolStrokeWidth": 4, "symbolStrokeColor": "#a6a6a6", "labelOffset": 7, "padding": 0}}}},
   {"data": {"values": [{"label": "SRER", "theta": 0.0135, "sigma": 0.035}]}, "mark": {"type": "text", "align": "left", "baseline": "middle", "fontSize": 22, "fontWeight": "bold", "color": "#111111"},
    "encoding": {"x": {"field": "theta", "type": "quantitative", "scale": {"domain": [0, 0.2], "nice": false, "zero": false}, "axis": null}, "y": {"field": "sigma", "type": "quantitative", "scale": {"domain": [0.01, 0.05], "nice": false, "zero": false}, "axis": null}, "text": {"field": "label"}}},
   {"data": {"values": [{"label": "(a)", "theta": 0.1956, "sigma": 0.0116}]}, "mark": {"type": "text", "align": "right", "baseline": "middle", "fontSize": 22, "fontWeight": "bold", "color": "#111111"},
    "encoding": {"x": {"field": "theta", "type": "quantitative", "scale": {"domain": [0, 0.2], "nice": false, "zero": false}, "axis": null}, "y": {"field": "sigma", "type": "quantitative", "scale": {"domain": [0.01, 0.05], "nice": false, "zero": false}, "axis": null}, "text": {"field": "label"}}}
  ]},
 {"width": 316, "height": 315, "resolve": {"axis": {"x": "independent", "y": "independent"}},
  "layer": [
   {"data": {"name": "b_pts", "format": {"parse": {"date": "date"}}}, "mark": {"type": "line", "color": "#8c8c8c", "strokeWidth": 2},
    "encoding": {"x": {"field": "theta", "type": "quantitative", "scale": {"domain": [0, 0.2], "nice": false, "zero": false}, "axis": {"orient": "bottom", "values": [0, 0.1, 0.2], "labelPadding": 24, "labelExpr": "datum.value === 0 ? '' : format(datum.value, '.2f')", "title": "<θ> [m³ m⁻³]", "titlePadding": 2}},
     "y": {"field": "sigma", "type": "quantitative", "scale": {"domain": [0.01, 0.05], "nice": false, "zero": false}, "axis": {"orient": "left", "values": [0.01, 0.02, 0.03, 0.04, 0.05], "labels": false, "title": null}},
     "order": {"field": "date", "type": "temporal"}}},
   {"data": {"name": "b_pts", "format": {"parse": {"date": "date"}}}, "mark": {"type": "point", "filled": true, "size": 50, "opacity": 1},
    "encoding": {"x": {"field": "theta", "type": "quantitative", "scale": {"domain": [0, 0.2], "nice": false, "zero": false}, "axis": null}, "y": {"field": "sigma", "type": "quantitative", "scale": {"domain": [0.01, 0.05], "nice": false, "zero": false}, "axis": null},
     "color": {"field": "date", "type": "quantitative", "scale": {"type": "linear", "zero": false, "nice": false, "domain": [1435708740000, 1435892400000, 1436076000000, 1436259600000, 1436443200000, 1436626800000, 1436810400000, 1436994000000, 1437177660000], "range": ["#352a87", "#0363e1", "#1485d4", "#06a7c6", "#38b99e", "#92bf73", "#d9ba56", "#fcce2e", "#f9fb0e"]},
      "legend": {"orient": "none", "legendX": 228, "legendY": 19, "title": null, "direction": "vertical", "gradientLength": 148, "gradientThickness": 10, "gradientStrokeColor": "#333333", "gradientStrokeWidth": 2, "labelFontSize": 19, "labelOffset": 8, "labelColor": "#3a3a3a", "padding": 0, "values": [1435708800000, 1436400000000, 1437177600000], "labelExpr": "utcFormat(datum.value, '%m/%d')"}}}},
   {"data": {"name": "b_box"}, "mark": {"type": "point", "shape": "square", "filled": false, "size": 225, "color": "#999999", "strokeWidth": 2, "opacity": 1},
    "encoding": {"x": {"field": "theta", "type": "quantitative", "scale": {"domain": [0, 0.2], "nice": false, "zero": false}, "axis": {"orient": "top", "values": [0, 0.1, 0.2], "labels": false, "title": null}},
     "y": {"field": "sigma", "type": "quantitative", "scale": {"domain": [0.01, 0.05], "nice": false, "zero": false}, "axis": {"orient": "right", "values": [0.01, 0.02, 0.03, 0.04, 0.05], "labels": false, "title": null}}}},
   {"data": {"name": "b_arr"}, "mark": {"type": "line", "color": "#111111", "strokeWidth": 1.3, "interpolate": "monotone"},
    "encoding": {"x": {"field": "theta", "type": "quantitative", "scale": {"domain": [0, 0.2], "nice": false, "zero": false}, "axis": null}, "y": {"field": "sigma", "type": "quantitative", "scale": {"domain": [0.01, 0.05], "nice": false, "zero": false}, "axis": null}, "detail": {"field": "arrow"}, "order": {"field": "k", "type": "quantitative"}}},
   {"data": {"name": "b_head"}, "mark": {"type": "point", "shape": "M0,0L-1,-0.45L-1,0.45Z", "filled": true, "size": 144, "color": "#111111", "opacity": 1},
    "encoding": {"x": {"field": "theta", "type": "quantitative", "scale": {"domain": [0, 0.2], "nice": false, "zero": false}, "axis": null}, "y": {"field": "sigma", "type": "quantitative", "scale": {"domain": [0.01, 0.05], "nice": false, "zero": false}, "axis": null}, "angle": {"field": "dir", "type": "quantitative", "scale": null}}},
   {"data": {"name": "b_lab"}, "mark": {"type": "text", "align": "center", "baseline": "middle", "fontSize": 15},
    "encoding": {"x": {"field": "theta", "type": "quantitative", "scale": {"domain": [0, 0.2], "nice": false, "zero": false}, "axis": null}, "y": {"field": "sigma", "type": "quantitative", "scale": {"domain": [0.01, 0.05], "nice": false, "zero": false}, "axis": null}, "text": {"field": "label"}}},
   {"data": {"name": "b_note"}, "mark": {"type": "text", "align": "center", "baseline": "middle", "fontSize": 15},
    "encoding": {"x": {"field": "theta", "type": "quantitative", "scale": {"domain": [0, 0.2], "nice": false, "zero": false}, "axis": null}, "y": {"field": "sigma", "type": "quantitative", "scale": {"domain": [0.01, 0.05], "nice": false, "zero": false}, "axis": null}, "text": {"field": "label"}, "angle": {"field": "angle", "type": "quantitative", "scale": null}}},
   {"data": {"values": [{"label": "Summer Case", "theta": 0.0082, "sigma": 0.0476}]}, "mark": {"type": "text", "align": "left", "baseline": "middle", "fontSize": 22},
    "encoding": {"x": {"field": "theta", "type": "quantitative", "scale": {"domain": [0, 0.2], "nice": false, "zero": false}, "axis": null}, "y": {"field": "sigma", "type": "quantitative", "scale": {"domain": [0.01, 0.05], "nice": false, "zero": false}, "axis": null}, "text": {"field": "label"}}},
   {"data": {"values": [{"label": "(b)", "theta": 0.1924, "sigma": 0.0116}]}, "mark": {"type": "text", "align": "right", "baseline": "middle", "fontSize": 22, "fontWeight": "bold", "color": "#111111"},
    "encoding": {"x": {"field": "theta", "type": "quantitative", "scale": {"domain": [0, 0.2], "nice": false, "zero": false}, "axis": null}, "y": {"field": "sigma", "type": "quantitative", "scale": {"domain": [0.01, 0.05], "nice": false, "zero": false}, "axis": null}, "text": {"field": "label"}}}
  ]},
 {"width": 316, "height": 315, "resolve": {"axis": {"x": "independent", "y": "independent"}},
  "layer": [
   {"data": {"name": "c_pts", "format": {"parse": {"date": "date"}}}, "mark": {"type": "line", "color": "#8c8c8c", "strokeWidth": 2},
    "encoding": {"x": {"field": "theta", "type": "quantitative", "scale": {"domain": [0, 0.2], "nice": false, "zero": false}, "axis": {"orient": "bottom", "values": [0, 0.1, 0.2], "labelPadding": 24, "labelExpr": "datum.value === 0 ? '' : format(datum.value, '.2f')", "title": null}},
     "y": {"field": "sigma", "type": "quantitative", "scale": {"domain": [0.01, 0.05], "nice": false, "zero": false}, "axis": {"orient": "left", "values": [0.01, 0.02, 0.03, 0.04, 0.05], "labels": false, "title": null}},
     "order": {"field": "date", "type": "temporal"}}},
   {"data": {"name": "c_pts", "format": {"parse": {"date": "date"}}}, "mark": {"type": "point", "filled": true, "size": 55, "opacity": 1},
    "encoding": {"x": {"field": "theta", "type": "quantitative", "scale": {"domain": [0, 0.2], "nice": false, "zero": false}, "axis": null}, "y": {"field": "sigma", "type": "quantitative", "scale": {"domain": [0.01, 0.05], "nice": false, "zero": false}, "axis": null},
     "color": {"field": "date", "type": "quantitative", "scale": {"type": "linear", "zero": false, "nice": false, "domain": [1416182340000, 1417284000000, 1418385600000, 1419487200000, 1420588800000, 1421690400000, 1422792000000, 1423893600000, 1424995260000], "range": ["#352a87", "#0363e1", "#1485d4", "#06a7c6", "#38b99e", "#92bf73", "#d9ba56", "#fcce2e", "#f9fb0e"]},
      "legend": {"orient": "none", "legendX": 226, "legendY": 18, "title": null, "direction": "vertical", "gradientLength": 148, "gradientThickness": 10, "gradientStrokeColor": "#333333", "gradientStrokeWidth": 2, "labelFontSize": 19, "labelOffset": 8, "labelColor": "#3a3a3a", "padding": 0, "values": [1416182400000, 1420588800000, 1424995200000], "labelExpr": "utcFormat(datum.value, '%m/%d')"}}}},
   {"data": {"name": "c_box"}, "mark": {"type": "point", "shape": "square", "filled": false, "size": 225, "color": "#999999", "strokeWidth": 2, "opacity": 1},
    "encoding": {"x": {"field": "theta", "type": "quantitative", "scale": {"domain": [0, 0.2], "nice": false, "zero": false}, "axis": {"orient": "top", "values": [0, 0.1, 0.2], "labels": false, "title": null}},
     "y": {"field": "sigma", "type": "quantitative", "scale": {"domain": [0.01, 0.05], "nice": false, "zero": false}, "axis": {"orient": "right", "values": [0.01, 0.02, 0.03, 0.04, 0.05], "labels": false, "title": null}}}},
   {"data": {"name": "c_arr"}, "mark": {"type": "line", "color": "#111111", "strokeWidth": 1.3, "interpolate": "monotone"},
    "encoding": {"x": {"field": "theta", "type": "quantitative", "scale": {"domain": [0, 0.2], "nice": false, "zero": false}, "axis": null}, "y": {"field": "sigma", "type": "quantitative", "scale": {"domain": [0.01, 0.05], "nice": false, "zero": false}, "axis": null}, "detail": {"field": "arrow"}, "order": {"field": "k", "type": "quantitative"}}},
   {"data": {"name": "c_head"}, "mark": {"type": "point", "shape": "M0,0L-1,-0.45L-1,0.45Z", "filled": true, "size": 144, "color": "#111111", "opacity": 1},
    "encoding": {"x": {"field": "theta", "type": "quantitative", "scale": {"domain": [0, 0.2], "nice": false, "zero": false}, "axis": null}, "y": {"field": "sigma", "type": "quantitative", "scale": {"domain": [0.01, 0.05], "nice": false, "zero": false}, "axis": null}, "angle": {"field": "dir", "type": "quantitative", "scale": null}}},
   {"data": {"name": "c_lab"}, "mark": {"type": "text", "align": "center", "baseline": "middle", "fontSize": 15},
    "encoding": {"x": {"field": "theta", "type": "quantitative", "scale": {"domain": [0, 0.2], "nice": false, "zero": false}, "axis": null}, "y": {"field": "sigma", "type": "quantitative", "scale": {"domain": [0.01, 0.05], "nice": false, "zero": false}, "axis": null}, "text": {"field": "label"}}},
   {"data": {"name": "c_note"}, "mark": {"type": "text", "align": "center", "baseline": "middle", "fontSize": 15},
    "encoding": {"x": {"field": "theta", "type": "quantitative", "scale": {"domain": [0, 0.2], "nice": false, "zero": false}, "axis": null}, "y": {"field": "sigma", "type": "quantitative", "scale": {"domain": [0.01, 0.05], "nice": false, "zero": false}, "axis": null}, "text": {"field": "label"}, "angle": {"field": "angle", "type": "quantitative", "scale": null}}},
   {"data": {"values": [{"label": "Fall/Winter Case", "theta": 0.007, "sigma": 0.0476}]}, "mark": {"type": "text", "align": "left", "baseline": "middle", "fontSize": 22},
    "encoding": {"x": {"field": "theta", "type": "quantitative", "scale": {"domain": [0, 0.2], "nice": false, "zero": false}, "axis": null}, "y": {"field": "sigma", "type": "quantitative", "scale": {"domain": [0.01, 0.05], "nice": false, "zero": false}, "axis": null}, "text": {"field": "label"}}},
   {"data": {"values": [{"label": "(c)", "theta": 0.193, "sigma": 0.0116}]}, "mark": {"type": "text", "align": "right", "baseline": "middle", "fontSize": 22, "fontWeight": "bold", "color": "#111111"},
    "encoding": {"x": {"field": "theta", "type": "quantitative", "scale": {"domain": [0, 0.2], "nice": false, "zero": false}, "axis": null}, "y": {"field": "sigma", "type": "quantitative", "scale": {"domain": [0.01, 0.05], "nice": false, "zero": false}, "axis": null}, "text": {"field": "label"}}}
  ]},
 {"width": 316, "height": 315, "resolve": {"axis": {"x": "independent", "y": "independent"}},
  "layer": [
   {"data": {"name": "d_pts"}, "mark": {"type": "point", "filled": true, "size": 50, "opacity": 1},
    "encoding": {"x": {"field": "theta", "type": "quantitative", "scale": {"domain": [0, 0.2], "nice": false, "zero": false}, "axis": {"orient": "bottom", "values": [0, 0.1, 0.2], "labelPadding": 24, "labelExpr": "datum.value === 0 ? '0' : format(datum.value, '.2f')", "title": null}},
     "y": {"field": "sigma", "type": "quantitative", "scale": {"domain": [0.01, 0.05], "nice": false, "zero": false}, "axis": {"orient": "left", "values": [0.01, 0.02, 0.03, 0.04, 0.05], "format": ".2f", "title": "σθ [m³ m⁻³]", "titlePadding": 11}},
     "color": {"field": "season", "type": "nominal", "scale": {"domain": ["Summer", "Fall", "Winter"], "range": ["#6fb43f", "#c9331f", "#2e3192"]},
      "legend": {"orient": "none", "legendX": 16, "legendY": 8, "title": null, "labelFontSize": 22, "symbolSize": 30, "symbolType": "circle", "labelOffset": 14, "padding": 0, "rowPadding": 2, "symbolStrokeWidth": 0}}}},
   {"data": {"name": "d_fit"}, "mark": {"type": "line", "color": "#a6a6a6", "strokeWidth": 4},
    "encoding": {"x": {"field": "theta", "type": "quantitative", "scale": {"domain": [0, 0.2], "nice": false, "zero": false}, "axis": {"orient": "top", "values": [0, 0.1, 0.2], "labels": false, "title": null}},
     "y": {"field": "sigma", "type": "quantitative", "scale": {"domain": [0.01, 0.05], "nice": false, "zero": false}, "axis": {"orient": "right", "values": [0.01, 0.02, 0.03, 0.04, 0.05], "labels": false, "title": null}},
     "strokeDash": {"datum": "Overall Fit", "type": "nominal", "scale": {"domain": ["Overall Fit"], "range": [[1, 0]]},
      "legend": {"orient": "none", "legendX": 5, "legendY": 71, "title": null, "labelFontSize": 22, "symbolType": "stroke", "symbolSize": 1225, "symbolStrokeWidth": 4, "symbolStrokeColor": "#a6a6a6", "labelOffset": 7, "padding": 0}}}},
   {"data": {"values": [{"label": "JER", "theta": 0.0135, "sigma": 0.035}]}, "mark": {"type": "text", "align": "left", "baseline": "middle", "fontSize": 22, "fontWeight": "bold", "color": "#111111"},
    "encoding": {"x": {"field": "theta", "type": "quantitative", "scale": {"domain": [0, 0.2], "nice": false, "zero": false}, "axis": null}, "y": {"field": "sigma", "type": "quantitative", "scale": {"domain": [0.01, 0.05], "nice": false, "zero": false}, "axis": null}, "text": {"field": "label"}}},
   {"data": {"values": [{"label": "(d)", "theta": 0.1962, "sigma": 0.0116}]}, "mark": {"type": "text", "align": "right", "baseline": "middle", "fontSize": 22, "fontWeight": "bold", "color": "#111111"},
    "encoding": {"x": {"field": "theta", "type": "quantitative", "scale": {"domain": [0, 0.2], "nice": false, "zero": false}, "axis": null}, "y": {"field": "sigma", "type": "quantitative", "scale": {"domain": [0.01, 0.05], "nice": false, "zero": false}, "axis": null}, "text": {"field": "label"}}}
  ]},
 {"width": 316, "height": 315, "resolve": {"axis": {"x": "independent", "y": "independent"}},
  "layer": [
   {"data": {"name": "e_pts", "format": {"parse": {"date": "date"}}}, "mark": {"type": "line", "color": "#8c8c8c", "strokeWidth": 2},
    "encoding": {"x": {"field": "theta", "type": "quantitative", "scale": {"domain": [0, 0.2], "nice": false, "zero": false}, "axis": {"orient": "bottom", "values": [0, 0.1, 0.2], "labelPadding": 24, "labelExpr": "datum.value === 0 ? '' : (datum.value < 0.15 ? '0.1' : '0.20')", "title": "<θ> [m³ m⁻³]", "titlePadding": 2}},
     "y": {"field": "sigma", "type": "quantitative", "scale": {"domain": [0.01, 0.05], "nice": false, "zero": false}, "axis": {"orient": "left", "values": [0.01, 0.02, 0.03, 0.04, 0.05], "labels": false, "title": null}},
     "order": {"field": "date", "type": "temporal"}}},
   {"data": {"name": "e_pts", "format": {"parse": {"date": "date"}}}, "mark": {"type": "point", "filled": true, "size": 50, "opacity": 1},
    "encoding": {"x": {"field": "theta", "type": "quantitative", "scale": {"domain": [0, 0.2], "nice": false, "zero": false}, "axis": null}, "y": {"field": "sigma", "type": "quantitative", "scale": {"domain": [0.01, 0.05], "nice": false, "zero": false}, "axis": null},
     "color": {"field": "date", "type": "quantitative", "scale": {"type": "linear", "zero": false, "nice": false, "domain": [1437523140000, 1437696000000, 1437868800000, 1438041600000, 1438214400000, 1438387200000, 1438560000000, 1438732800000, 1438905660000], "range": ["#352a87", "#0363e1", "#1485d4", "#06a7c6", "#38b99e", "#92bf73", "#d9ba56", "#fcce2e", "#f9fb0e"]},
      "legend": {"orient": "none", "legendX": 11, "legendY": 19, "title": null, "direction": "vertical", "gradientLength": 148, "gradientThickness": 10, "gradientStrokeColor": "#333333", "gradientStrokeWidth": 2, "labelFontSize": 19, "labelOffset": 8, "labelColor": "#3a3a3a", "padding": 0, "values": [1437523200000, 1438214400000, 1438905600000], "labelExpr": "utcFormat(datum.value, '%m/%d')"}}}},
   {"data": {"name": "e_box"}, "mark": {"type": "point", "shape": "square", "filled": false, "size": 225, "color": "#999999", "strokeWidth": 2, "opacity": 1},
    "encoding": {"x": {"field": "theta", "type": "quantitative", "scale": {"domain": [0, 0.2], "nice": false, "zero": false}, "axis": {"orient": "top", "values": [0, 0.1, 0.2], "labels": false, "title": null}},
     "y": {"field": "sigma", "type": "quantitative", "scale": {"domain": [0.01, 0.05], "nice": false, "zero": false}, "axis": {"orient": "right", "values": [0.01, 0.02, 0.03, 0.04, 0.05], "labels": false, "title": null}}}},
   {"data": {"name": "e_arr"}, "mark": {"type": "line", "color": "#111111", "strokeWidth": 1.3, "interpolate": "monotone"},
    "encoding": {"x": {"field": "theta", "type": "quantitative", "scale": {"domain": [0, 0.2], "nice": false, "zero": false}, "axis": null}, "y": {"field": "sigma", "type": "quantitative", "scale": {"domain": [0.01, 0.05], "nice": false, "zero": false}, "axis": null}, "detail": {"field": "arrow"}, "order": {"field": "k", "type": "quantitative"}}},
   {"data": {"name": "e_head"}, "mark": {"type": "point", "shape": "M0,0L-1,-0.45L-1,0.45Z", "filled": true, "size": 144, "color": "#111111", "opacity": 1},
    "encoding": {"x": {"field": "theta", "type": "quantitative", "scale": {"domain": [0, 0.2], "nice": false, "zero": false}, "axis": null}, "y": {"field": "sigma", "type": "quantitative", "scale": {"domain": [0.01, 0.05], "nice": false, "zero": false}, "axis": null}, "angle": {"field": "dir", "type": "quantitative", "scale": null}}},
   {"data": {"name": "e_lab"}, "mark": {"type": "text", "align": "center", "baseline": "middle", "fontSize": 15},
    "encoding": {"x": {"field": "theta", "type": "quantitative", "scale": {"domain": [0, 0.2], "nice": false, "zero": false}, "axis": null}, "y": {"field": "sigma", "type": "quantitative", "scale": {"domain": [0.01, 0.05], "nice": false, "zero": false}, "axis": null}, "text": {"field": "label"}}},
   {"data": {"name": "e_note"}, "mark": {"type": "text", "align": "center", "baseline": "middle", "fontSize": 15},
    "encoding": {"x": {"field": "theta", "type": "quantitative", "scale": {"domain": [0, 0.2], "nice": false, "zero": false}, "axis": null}, "y": {"field": "sigma", "type": "quantitative", "scale": {"domain": [0.01, 0.05], "nice": false, "zero": false}, "axis": null}, "text": {"field": "label"}, "angle": {"field": "angle", "type": "quantitative", "scale": null}}},
   {"data": {"values": [{"label": "Summer Case", "theta": 0.0082, "sigma": 0.0115}]}, "mark": {"type": "text", "align": "left", "baseline": "middle", "fontSize": 22},
    "encoding": {"x": {"field": "theta", "type": "quantitative", "scale": {"domain": [0, 0.2], "nice": false, "zero": false}, "axis": null}, "y": {"field": "sigma", "type": "quantitative", "scale": {"domain": [0.01, 0.05], "nice": false, "zero": false}, "axis": null}, "text": {"field": "label"}}},
   {"data": {"values": [{"label": "(e)", "theta": 0.1924, "sigma": 0.0116}]}, "mark": {"type": "text", "align": "right", "baseline": "middle", "fontSize": 22, "fontWeight": "bold", "color": "#111111"},
    "encoding": {"x": {"field": "theta", "type": "quantitative", "scale": {"domain": [0, 0.2], "nice": false, "zero": false}, "axis": null}, "y": {"field": "sigma", "type": "quantitative", "scale": {"domain": [0.01, 0.05], "nice": false, "zero": false}, "axis": null}, "text": {"field": "label"}}}
  ]},
 {"width": 316, "height": 315, "resolve": {"axis": {"x": "independent", "y": "independent"}},
  "layer": [
   {"data": {"name": "f_pts", "format": {"parse": {"date": "date"}}}, "mark": {"type": "line", "color": "#8c8c8c", "strokeWidth": 2},
    "encoding": {"x": {"field": "theta", "type": "quantitative", "scale": {"domain": [0, 0.2], "nice": false, "zero": false}, "axis": {"orient": "bottom", "values": [0, 0.1, 0.2], "labelPadding": 24, "labelExpr": "datum.value === 0 ? '' : format(datum.value, '.2f')", "title": null}},
     "y": {"field": "sigma", "type": "quantitative", "scale": {"domain": [0.01, 0.05], "nice": false, "zero": false}, "axis": {"orient": "left", "values": [0.01, 0.02, 0.03, 0.04, 0.05], "labels": false, "title": null}},
     "order": {"field": "date", "type": "temporal"}}},
   {"data": {"name": "f_pts", "format": {"parse": {"date": "date"}}}, "mark": {"type": "point", "filled": true, "size": 55, "opacity": 1},
    "encoding": {"x": {"field": "theta", "type": "quantitative", "scale": {"domain": [0, 0.2], "nice": false, "zero": false}, "axis": null}, "y": {"field": "sigma", "type": "quantitative", "scale": {"domain": [0.01, 0.05], "nice": false, "zero": false}, "axis": null},
     "color": {"field": "date", "type": "quantitative", "scale": {"type": "linear", "zero": false, "nice": false, "domain": [1416700740000, 1417748400000, 1418796000000, 1419843600000, 1420891200000, 1421938800000, 1422986400000, 1424034000000, 1425081660000], "range": ["#352a87", "#0363e1", "#1485d4", "#06a7c6", "#38b99e", "#92bf73", "#d9ba56", "#fcce2e", "#f9fb0e"]},
      "legend": {"orient": "none", "legendX": 226, "legendY": 19, "title": null, "direction": "vertical", "gradientLength": 148, "gradientThickness": 10, "gradientStrokeColor": "#333333", "gradientStrokeWidth": 2, "labelFontSize": 19, "labelOffset": 8, "labelColor": "#3a3a3a", "padding": 0, "values": [1416700800000, 1420848000000, 1425081600000], "labelExpr": "utcFormat(datum.value, '%m/%d')"}}}},
   {"data": {"name": "f_box"}, "mark": {"type": "point", "shape": "square", "filled": false, "size": 225, "color": "#999999", "strokeWidth": 2, "opacity": 1},
    "encoding": {"x": {"field": "theta", "type": "quantitative", "scale": {"domain": [0, 0.2], "nice": false, "zero": false}, "axis": {"orient": "top", "values": [0, 0.1, 0.2], "labels": false, "title": null}},
     "y": {"field": "sigma", "type": "quantitative", "scale": {"domain": [0.01, 0.05], "nice": false, "zero": false}, "axis": {"orient": "right", "values": [0.01, 0.02, 0.03, 0.04, 0.05], "labels": false, "title": null}}}},
   {"data": {"name": "f_arr"}, "mark": {"type": "line", "color": "#111111", "strokeWidth": 1.3, "interpolate": "monotone"},
    "encoding": {"x": {"field": "theta", "type": "quantitative", "scale": {"domain": [0, 0.2], "nice": false, "zero": false}, "axis": null}, "y": {"field": "sigma", "type": "quantitative", "scale": {"domain": [0.01, 0.05], "nice": false, "zero": false}, "axis": null}, "detail": {"field": "arrow"}, "order": {"field": "k", "type": "quantitative"}}},
   {"data": {"name": "f_head"}, "mark": {"type": "point", "shape": "M0,0L-1,-0.45L-1,0.45Z", "filled": true, "size": 144, "color": "#111111", "opacity": 1},
    "encoding": {"x": {"field": "theta", "type": "quantitative", "scale": {"domain": [0, 0.2], "nice": false, "zero": false}, "axis": null}, "y": {"field": "sigma", "type": "quantitative", "scale": {"domain": [0.01, 0.05], "nice": false, "zero": false}, "axis": null}, "angle": {"field": "dir", "type": "quantitative", "scale": null}}},
   {"data": {"name": "f_lab"}, "mark": {"type": "text", "align": "center", "baseline": "middle", "fontSize": 15},
    "encoding": {"x": {"field": "theta", "type": "quantitative", "scale": {"domain": [0, 0.2], "nice": false, "zero": false}, "axis": null}, "y": {"field": "sigma", "type": "quantitative", "scale": {"domain": [0.01, 0.05], "nice": false, "zero": false}, "axis": null}, "text": {"field": "label"}}},
   {"data": {"name": "f_note"}, "mark": {"type": "text", "align": "center", "baseline": "middle", "fontSize": 15},
    "encoding": {"x": {"field": "theta", "type": "quantitative", "scale": {"domain": [0, 0.2], "nice": false, "zero": false}, "axis": null}, "y": {"field": "sigma", "type": "quantitative", "scale": {"domain": [0.01, 0.05], "nice": false, "zero": false}, "axis": null}, "text": {"field": "label"}, "angle": {"field": "angle", "type": "quantitative", "scale": null}}},
   {"data": {"values": [{"label": "Fall/Winter Case", "theta": 0.007, "sigma": 0.0477}]}, "mark": {"type": "text", "align": "left", "baseline": "middle", "fontSize": 22},
    "encoding": {"x": {"field": "theta", "type": "quantitative", "scale": {"domain": [0, 0.2], "nice": false, "zero": false}, "axis": null}, "y": {"field": "sigma", "type": "quantitative", "scale": {"domain": [0.01, 0.05], "nice": false, "zero": false}, "axis": null}, "text": {"field": "label"}}},
   {"data": {"values": [{"label": "(f)", "theta": 0.1937, "sigma": 0.0116}]}, "mark": {"type": "text", "align": "right", "baseline": "middle", "fontSize": 22, "fontWeight": "bold", "color": "#111111"},
    "encoding": {"x": {"field": "theta", "type": "quantitative", "scale": {"domain": [0, 0.2], "nice": false, "zero": false}, "axis": null}, "y": {"field": "sigma", "type": "quantitative", "scale": {"domain": [0.01, 0.05], "nice": false, "zero": false}, "axis": null}, "text": {"field": "label"}}}
  ]}
]
}
